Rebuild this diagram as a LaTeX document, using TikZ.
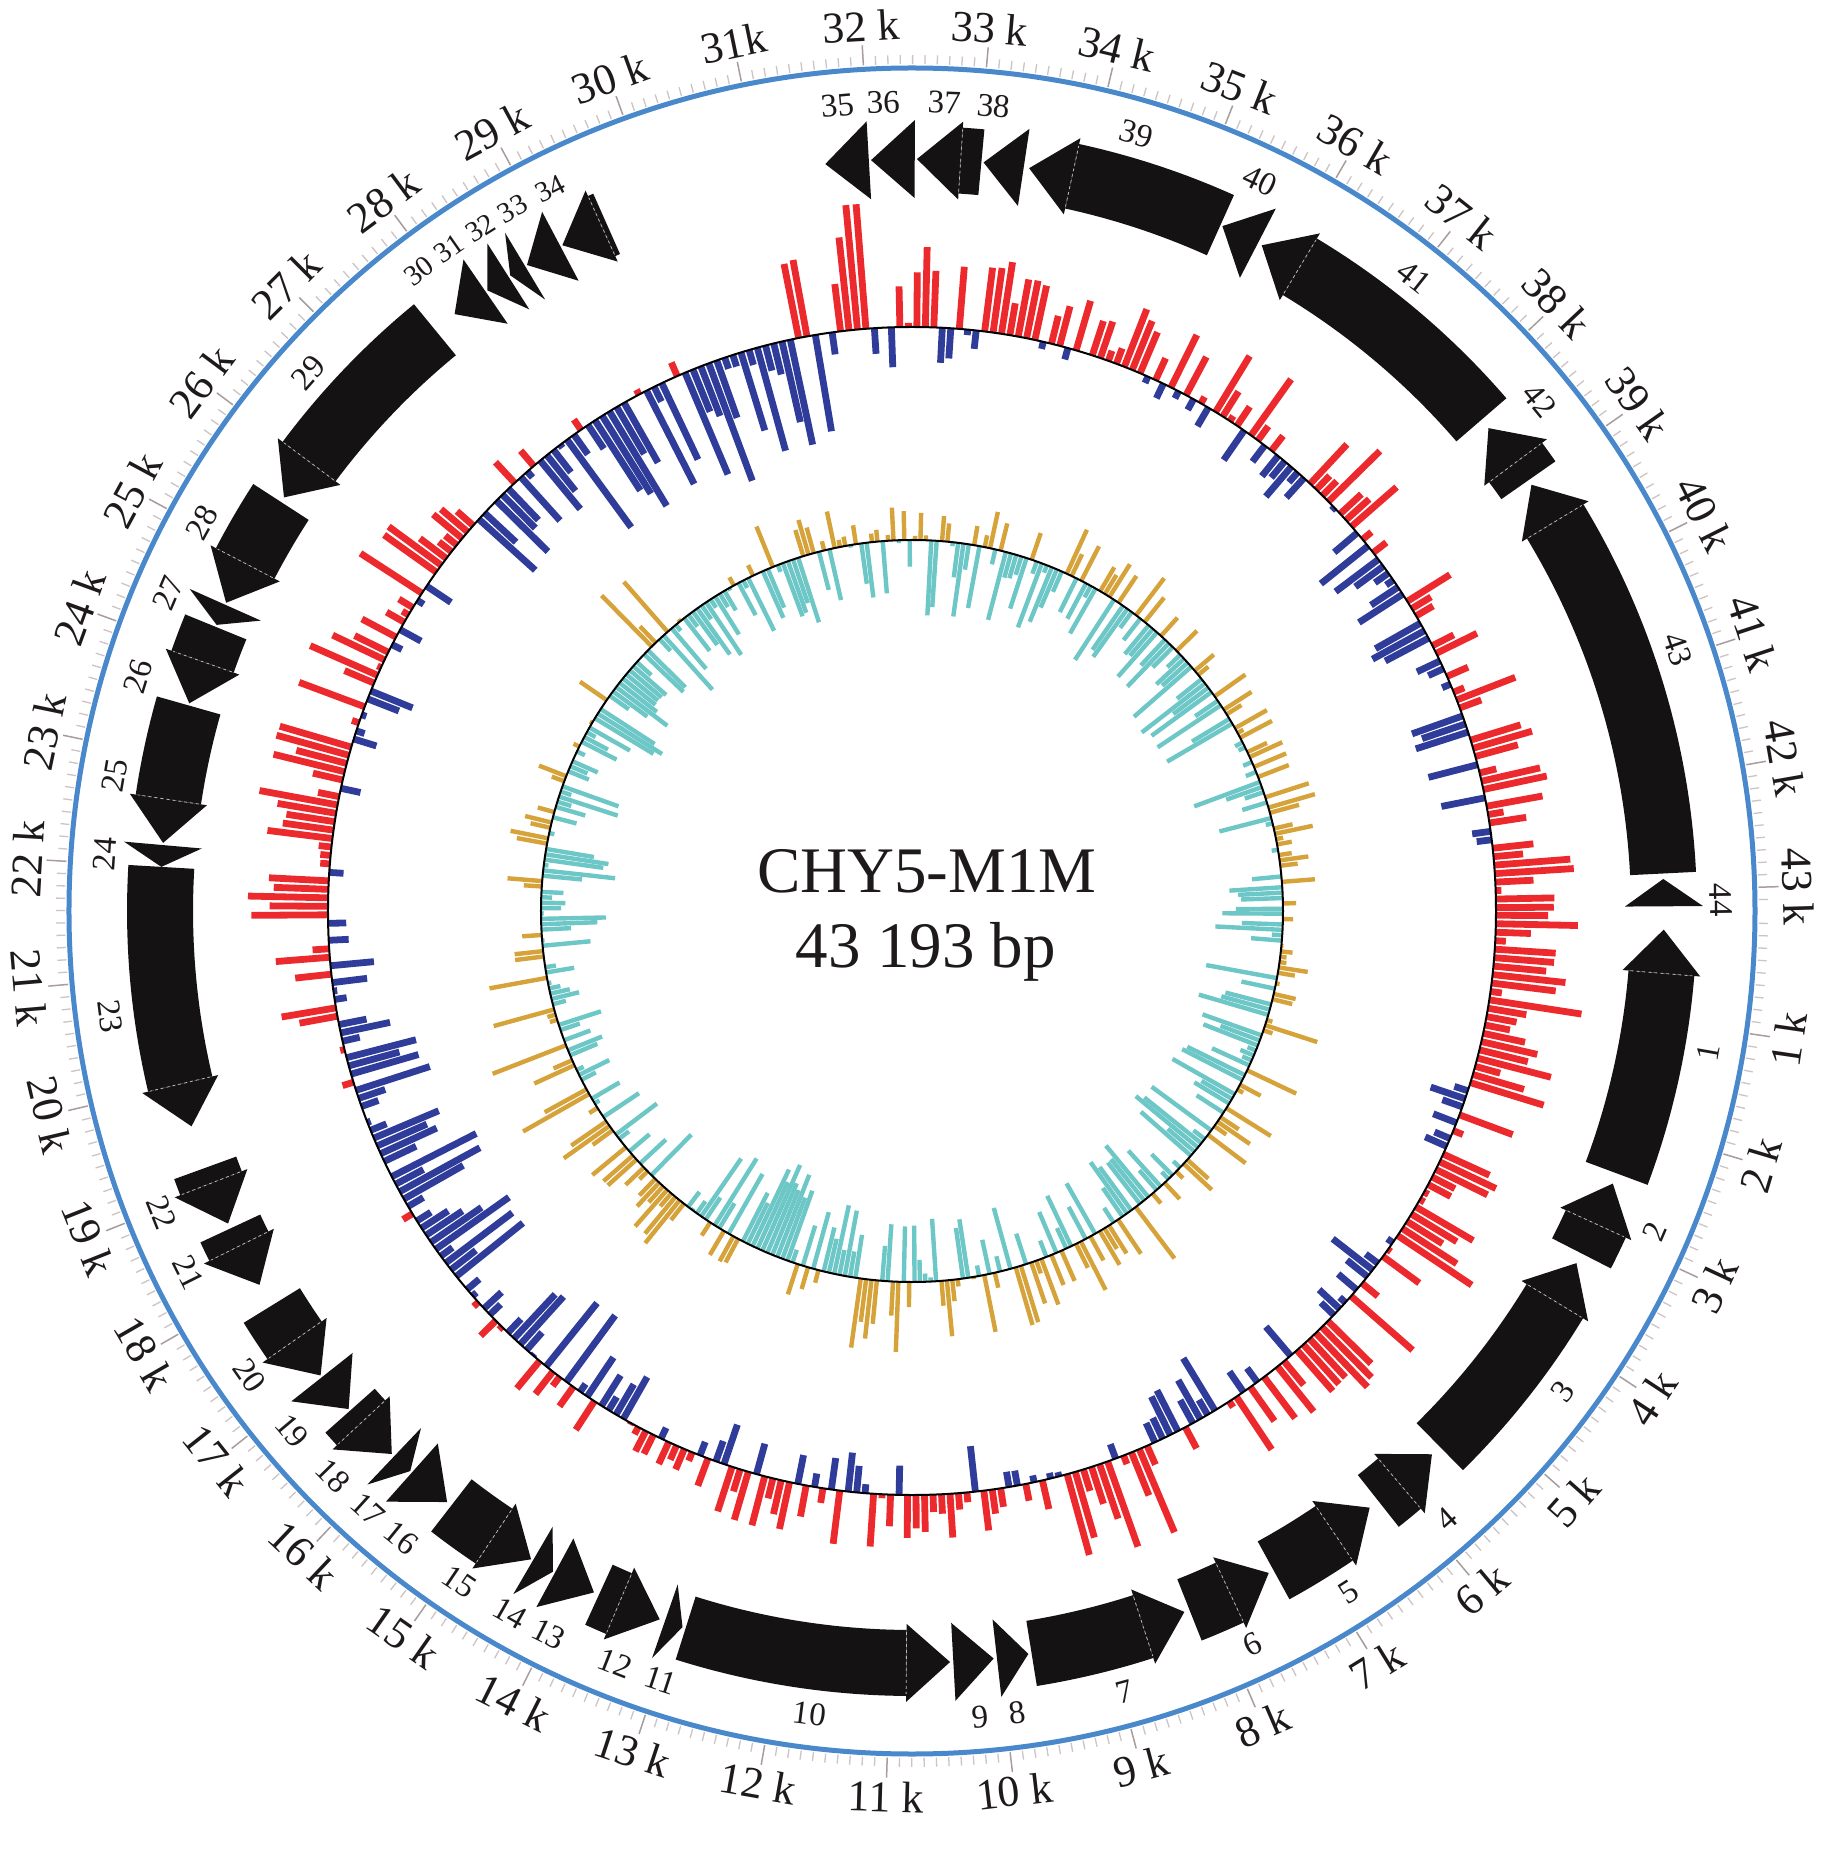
\documentclass[tikz,border=0pt]{standalone}
\usepackage{fontspec}
\setmainfont{Liberation Serif}
\definecolor{gcred}{HTML}{EC2A2D}
\definecolor{gcblue}{HTML}{2F3C99}
\definecolor{skcyan}{HTML}{6CC7C6}
\definecolor{skgold}{HTML}{D6A23A}
\definecolor{ringblue}{HTML}{4A88CC}
\definecolor{tickgray}{HTML}{CFC3C3}
\definecolor{tickdark}{HTML}{A89C9C}
\definecolor{txt}{HTML}{1E1A1B}
\definecolor{genefill}{HTML}{141213}
\def\gcb{{35,35,25,30,15,10,0,10,25,10,0,5,10,0,-15,-20,-20,-30,-35,-30,5,20,25,20,0,-5,-10,-30,-40,-40,-45,-10,15,20,15,10,10,15,0,-5,5,0,25,30}}
\def\gca{{30,35,55,50,60,50,50,60,50,35,35,35,35,40,55,50,45,40,40,40,50,45,45,45,55,60,55,55,50,55,45,70,55,45,40,40,45,45,45,45,45,50,40,30}}
\def\skc{{-15,-15,-10,-10,-10,0,0,0,0,0,0,0,-15,-20,-20,-5,-5,5,5,5,0,-15,-15,-20,-20,-20,0,0,-5,-5,-15,-5,-5,-15,-15,-10,-10,-10,-15,-15,-15,-15,-15,-15}}
\def\skd{{45,45,55,55,55,55,55,55,60,60,60,60,45,55,55,55,55,60,60,60,55,50,50,50,50,50,60,60,55,55,45,55,55,45,45,50,50,50,50,50,50,55,55,45}}
\begin{document}
\begin{tikzpicture}[x=1pt,y=1pt,
  gcbar/.style={line width=6.8pt},
  skbar/.style={line width=4.4pt},
  minortick/.style={draw=tickgray, line width=1.3pt},
  majortick/.style={draw=tickdark, line width=1.5pt},
  headsep/.style={draw=gray!55, dashed, line width=0.8pt},
  scalelabel/.style={font=\fontsize{44}{50}\selectfont, text=txt, inner sep=0pt},
  genelabel/.style={font=\fontsize{33}{38}\selectfont, text=txt, inner sep=0pt},
  smallgenelabel/.style={font=\fontsize{29}{34}\selectfont, text=txt, inner sep=0pt},
  titletext/.style={font=\fontsize{65}{78}\selectfont, text=txt, inner sep=0pt, anchor=base}]
\useasboundingbox (-912,-965) rectangle (922,911);
\fill[white] (-912,-965) rectangle (922,911);

% ---- scale ticks ----
\foreach \i in {1,...,431}{
  \pgfmathsetmacro\ang{-\i*0.833468}
  \pgfmathtruncatemacro\maj{mod(\i,10)==0 ? 1 : 0}
  \ifnum\maj=1 \draw[majortick] (\ang:847) -- (\ang:867);
  \else \draw[minortick] (\ang:847) -- (\ang:856); \fi
}
\draw[ringblue, line width=5pt] (0,0) circle[radius=843pt];

% ---- scale labels ----
\foreach \kk in {1,...,43}{
  \pgfmathsetmacro\ang{-\kk*8.33468}
  \pgfmathsetmacro\rot{sin(\ang)>0 ? \ang-90 : \ang+90}
  \node[scalelabel, rotate=\rot] (s\kk) at (\ang:886) {\ifnum\kk=31 31k\else\kk\ k\fi};
}

% ---- genes (all pointing counterclockwise) ----
\foreach \st/\en in {0.17/2.45, 2.55/3.25, 3.35/5.45, 5.55/6.2, 6.3/7.35, 7.4/8.2, 8.25/9.7, 9.73/10.02, 10.05/10.42, 10.45/12.9,
  12.93/13.1, 13.15/13.75, 13.8/14.2, 14.22/14.43, 14.45/15.33, 15.38/15.8, 15.82/16.02, 16.05/16.6, 16.62/17.0, 17.02/17.8,
  18.02/18.6, 18.65/19.2, 19.6/22.0, 22.0/22.2, 22.22/23.5, 23.52/24.26, 24.28/24.48, 24.5/25.55, 25.6/27.67, 27.9/28.25,
  28.27/28.5, 28.52/28.68, 28.7/29.05, 29.07/29.52, 31.6/32.0, 32.02/32.42, 32.44/33.03, 33.05/33.42, 33.47/35.3, 35.32/35.68,
  35.72/38.3, 38.4/39.0, 39.05/42.85, 42.9/43.15}{
  \pgfmathsetmacro\angs{-\st*8.33468}
  \pgfmathsetmacro\ange{-\en*8.33468}
  \pgfmathsetmacro\glen{\en-\st}
  \pgfmathtruncatemacro\isbox{\glen>0.44 ? 1 : 0}
  \ifnum\isbox=1
    \pgfmathsetmacro\angb{-(\st+0.4)*8.33468}
    \fill[genefill] (\ange:719) arc[start angle=\ange, end angle=\angb, radius=719pt]
      -- (\angb:785) arc[start angle=\angb, end angle=\ange, radius=785pt] -- cycle;
    \fill[genefill] (\angb:713) -- (\angb:791) -- (\angs:752) -- cycle;
    \draw[headsep] (\angb:721) -- (\angb:783);
  \else
    \fill[genefill] (\ange:713) -- (\ange:791) -- (\angs:752) -- cycle;
  \fi
}

% ---- gene labels ----
\foreach \n/\p in {1/1.21, 2/2.8, 3/4.37, 4/5.84, 5/6.88, 6/7.81, 7/8.97, 8/9.9, 9/10.22, 10/11.67, 11/12.97, 12/13.38,
  13/14.0, 14/14.37, 15/14.88, 16/15.5, 17/15.87, 18/16.28, 19/16.8, 20/17.39, 21/18.41, 22/18.97, 23/20.7, 24/22.08,
  25/22.75, 26/23.62, 27/24.37, 28/25.04, 29/26.6, 35/31.76, 36/32.15,
  37/32.67, 38/33.09, 39/34.33, 40/35.45, 41/37.0, 42/38.5, 43/40.93, 44/43.1}{
  \pgfmathsetmacro\ang{-\p*8.33468}
  \pgfmathsetmacro\rot{sin(\ang)>0 ? \ang-90 : \ang+90}
  \node[genelabel, rotate=\rot] (g\n) at (\ang:809) {\n};
}
\foreach \n/\p in {30/27.88, 31/28.2, 32/28.52, 33/28.84, 34/29.2}{
  \pgfmathsetmacro\ang{-\p*8.33468}
  \pgfmathsetmacro\rot{sin(\ang)>0 ? \ang-90 : \ang+90}
  \node[smallgenelabel, rotate=\rot] (g\n) at (\ang:808) {\n};
}

% ---- GC content ----
\pgfmathsetseed{2024}
\foreach \i in {0,...,431}{
  \pgfmathsetmacro\p{(\i+0.5)*0.1}
  \pgfmathsetmacro\ang{-\p*8.33468}
  \pgfmathtruncatemacro\kk{\i/10}
  \pgfmathsetmacro\gb{\gcb[\kk]}
  \pgfmathsetmacro\ga{\gca[\kk]}
  \pgfmathsetmacro\vv{1.35*(\gb+\ga*rand)+(and(\p>31.55,\p<31.95) ? 90 : 0)}
  \pgfmathsetmacro\lenr{max(min(\vv,125),-125)}
  \pgfmathsetmacro\rr{584+\lenr}
  \pgfmathtruncatemacro\sg{\lenr>2 ? 1 : (\lenr<-2 ? -1 : 0)}
  \ifnum\sg=1 \draw[gcbar, gcred] (\ang:584) -- (\ang:\rr); \fi
  \ifnum\sg=-1 \draw[gcbar, gcblue] (\ang:584) -- (\ang:\rr); \fi
}
\draw[black, line width=2pt] (0,0) circle[radius=584pt];

% ---- GC skew ----
\foreach \i in {0,...,431}{
  \pgfmathsetmacro\p{(\i+0.5)*0.1}
  \pgfmathsetmacro\ang{-\p*8.33468}
  \pgfmathtruncatemacro\kk{\i/10}
  \pgfmathsetmacro\gb{\skc[\kk]}
  \pgfmathsetmacro\ga{\skd[\kk]}
  \pgfmathsetmacro\vv{1.25*(\gb+\ga*rand)}
  \pgfmathsetmacro\lenr{max(min(\vv,100),-100)}
  \pgfmathsetmacro\rr{371+\lenr}
  \pgfmathtruncatemacro\sg{\lenr>2 ? 1 : (\lenr<-2 ? -1 : 0)}
  \ifnum\sg=1 \draw[skbar, skgold] (\ang:371) -- (\ang:\rr); \fi
  \ifnum\sg=-1 \draw[skbar, skcyan] (\ang:371) -- (\ang:\rr); \fi
}
\draw[black, line width=2pt] (0,0) circle[radius=371pt];

% ---- title ----
\node[titletext] (title) at (15,19) {CHY5-M1M};
\node[titletext] (size) at (14,-56) {43 193 bp};
\end{tikzpicture}
\end{document}
